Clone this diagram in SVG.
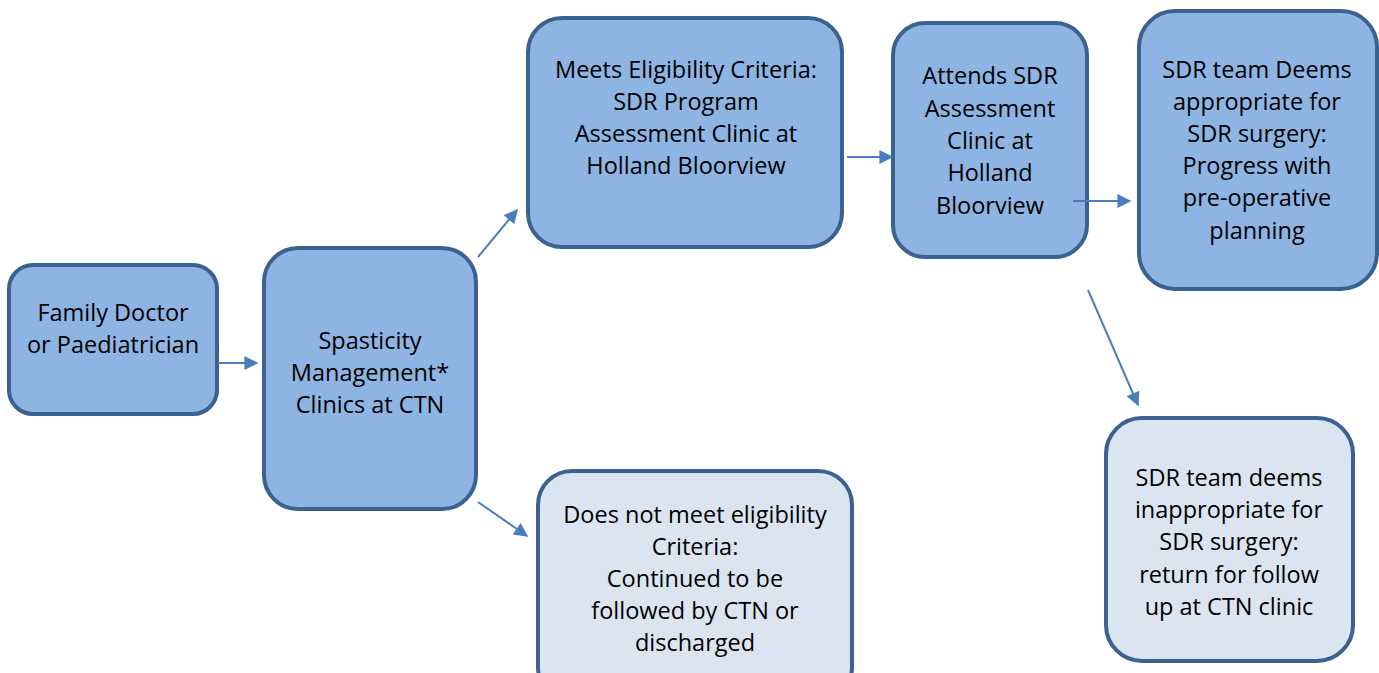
<svg xmlns="http://www.w3.org/2000/svg" width="1379" height="673" viewBox="0 0 1379 673">
<style>
.n{fill:#8eb4e3;stroke:#3b6190;stroke-width:4}
.l{fill:#dbe5f1;stroke:#3b6190;stroke-width:4}
text{font-family:"Open Sans","Liberation Sans",sans-serif;font-size:23.5px;fill:#000;text-anchor:middle}
.c{stroke:#4a7ebb;stroke-width:2;fill:none;marker-end:url(#ah)}
</style>
<defs>
<marker id="ah" viewBox="0 0 10 10" refX="9" refY="5" markerWidth="7.5" markerHeight="7" orient="auto" markerUnits="strokeWidth">
<path d="M0,0 L10,5 L0,10 z" fill="#4a7ebb"/>
</marker>
</defs>
<rect width="1379" height="673" fill="#fff"/>
<g id="n1">
<rect class="n" x="9" y="265" width="208" height="149" rx="24"/>
<text x="113" y="321">Family Doctor</text>
<text x="113" y="353">or Paediatrician</text>
</g>
<g id="n2">
<rect class="n" x="264" y="248" width="212" height="261" rx="34"/>
<text x="370" y="349">Spasticity</text>
<text x="370" y="381">Management*</text>
<text x="370" y="413">Clinics at CTN</text>
</g>
<g id="n3">
<rect class="n" x="528" y="18" width="314" height="229" rx="34"/>
<text x="686" y="78">Meets Eligibility Criteria:</text>
<text x="686" y="110">SDR Program</text>
<text x="686" y="142">Assessment Clinic at</text>
<text x="686" y="174">Holland Bloorview</text>
</g>
<g id="n4">
<rect class="n" x="893" y="23" width="194" height="234" rx="32"/>
<text x="990" y="84">Attends SDR</text>
<text x="990" y="117">Assessment</text>
<text x="990" y="149">Clinic at</text>
<text x="990" y="181">Holland</text>
<text x="990" y="214">Bloorview</text>
</g>
<g id="n5">
<rect class="n" x="1139" y="11" width="238" height="278" rx="36"/>
<text x="1257" y="78">SDR team Deems</text>
<text x="1257" y="110">appropriate for</text>
<text x="1257" y="142">SDR surgery:</text>
<text x="1257" y="174">Progress with</text>
<text x="1257" y="206">pre-operative</text>
<text x="1257" y="239">planning</text>
</g>
<g id="n6">
<rect class="l" x="538" y="471" width="314" height="230" rx="34"/>
<text x="695" y="523">Does not meet eligibility</text>
<text x="695" y="555">Criteria:</text>
<text x="695" y="587">Continued to be</text>
<text x="695" y="619">followed by CTN or</text>
<text x="695" y="651">discharged</text>
</g>
<g id="n7">
<rect class="l" x="1106" y="418" width="247" height="243" rx="36"/>
<text x="1229" y="486">SDR team deems</text>
<text x="1229" y="518">inappropriate for</text>
<text x="1229" y="550">SDR surgery:</text>
<text x="1229" y="583">return for follow</text>
<text x="1229" y="615">up at CTN clinic</text>
</g>
<g id="connectors">
<line class="c" x1="218" y1="363" x2="257" y2="363"/>
<line class="c" x1="478" y1="257" x2="517" y2="210"/>
<line class="c" x1="478" y1="502" x2="527" y2="536"/>
<line class="c" x1="847" y1="157" x2="892" y2="157"/>
<line class="c" x1="1073" y1="201" x2="1130" y2="201"/>
<line class="c" x1="1088" y1="290" x2="1138" y2="405"/>
</g>
</svg>
